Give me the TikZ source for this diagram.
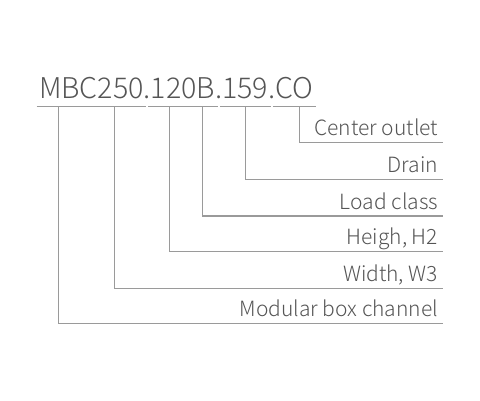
\documentclass[tikz,border=0pt]{standalone}
\usepackage{fontspec}
\setmainfont{Noto Sans CJK SC}[UprightFont=* Light]
\usetikzlibrary{positioning}
\definecolor{txtgray}{HTML}{555555}
\definecolor{linegray}{HTML}{9A9A9A}
\tikzset{
  seg/.style={font=\fontsize{28.6}{30}\selectfont, text=txtgray, inner xsep=2.5pt, inner ysep=0pt, outer sep=0pt},
  dot/.style={seg, inner xsep=0pt},
  lbl/.style={font=\fontsize{21}{23}\selectfont, text=txtgray, inner sep=0pt, anchor=base east},
  leader/.style={draw=linegray, line width=1.1pt}
}
\begin{document}
\begin{tikzpicture}[x=1pt,y=-1pt]
\useasboundingbox (0,0) rectangle (480,400);
% code segments
\node[seg, anchor=base west] (m1) at (36.5,98) {MBC};
\node[seg, base right=-5pt of m1] (m2) {250};
\node[dot, base right=-2.5pt of m2] (d1) {.};
\node[seg, base right=-2.5pt of d1] (m3) {120};
\node[seg, base right=-5pt of m3] (m4) {B};
\node[dot, base right=-2.5pt of m4] (d2) {.};
\node[seg, base right=-2.5pt of d2] (m5) {159};
\node[dot, base right=-2.5pt of m5] (d3) {.};
\node[seg, base right=-2.5pt of d3] (m6) {CO};
\coordinate (ul) at (0,106.7);
\foreach \s in {m1,m2,m3,m4,m5,m6}
  \draw[leader] (\s.west |- ul) -- (\s.east |- ul);
% right ends of the leaders
\coordinate (e6) at (443.3,142.7);
\coordinate (e5) at (443.3,179.3);
\coordinate (e4) at (443.3,216);
\coordinate (e3) at (443.3,251.7);
\coordinate (e2) at (443.3,288.3);
\coordinate (e1) at (443.3,323.7);
\node[lbl] (l6) at ([xshift=-5pt,yshift=7pt]e6) {Center outlet};
\node[lbl] (l5) at ([xshift=-5pt,yshift=7pt]e5) {Drain};
\node[lbl] (l4) at ([xshift=-5pt,yshift=7pt]e4) {Load class};
\node[lbl] (l3) at ([xshift=-5pt,yshift=7pt]e3) {Heigh, H2};
\node[lbl] (l2) at ([xshift=-5pt,yshift=7pt]e2) {Width, W3};
\node[lbl] (l1) at ([xshift=-5pt,yshift=7pt]e1) {Modular box channel};
\foreach \i/\dx in {1/-10,2/-6,3/-4,4/-3,5/0,6/5}
  \draw[leader] ([xshift=\dx pt]m\i.center |- ul) |- (e\i);
\end{tikzpicture}
\end{document}
